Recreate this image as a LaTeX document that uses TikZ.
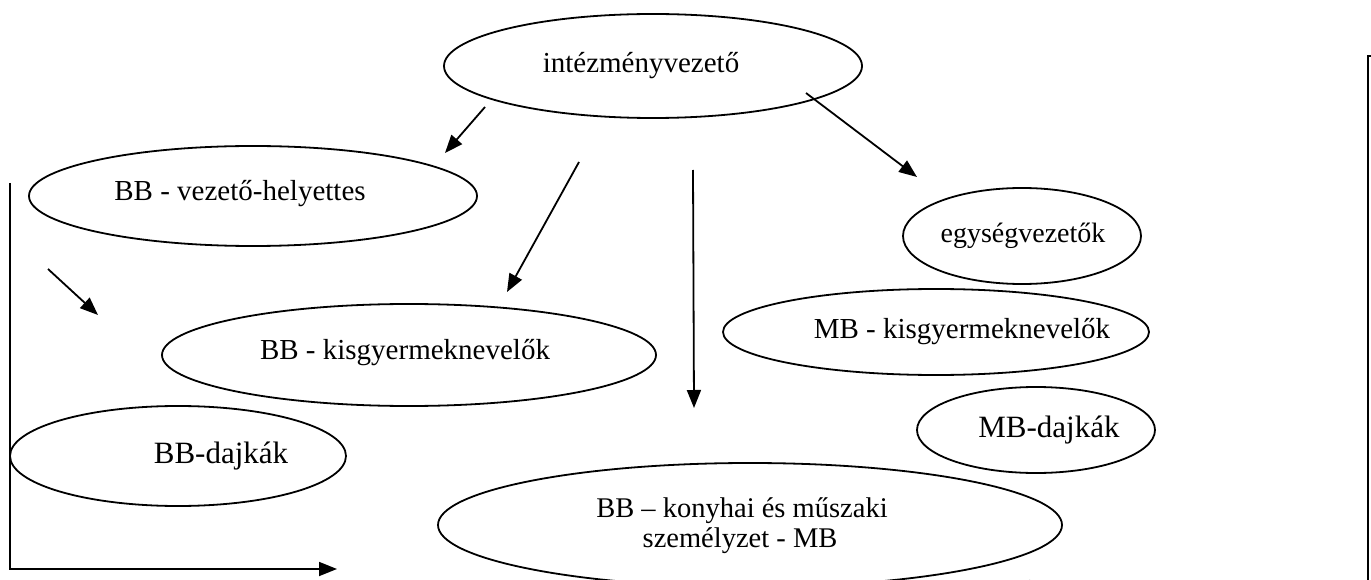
\documentclass[tikz,border=0pt]{standalone}
\usepackage{fontspec}
\setmainfont{Liberation Serif}
\usetikzlibrary{arrows.meta,shapes.geometric}
\begin{document}
\begin{tikzpicture}[x=1pt,y=-1pt,
  oval/.style={draw,ellipse,line width=1.8pt,inner sep=0pt},
  lbl/.style={font=\fontsize{29}{34}\selectfont,align=center,inner sep=0pt},
  lblb/.style={font=\fontsize{31}{36}\selectfont,align=center,inner sep=0pt},
  lbls/.style={font=\fontsize{28.5}{33}\selectfont,inner sep=0pt,anchor=base},
  arr/.style={line width=1.8pt,-{Triangle[length=18pt,width=14pt]}}]
\clip (0,0) rectangle (1371,580);
\fill[white] (0,0) rectangle (1371,580);
% ellipses
\node[oval,minimum width=418pt,minimum height=104pt] (iv) at (653,66) {};
\node[lbl] (ivt) at (641,66) {intézményvezető};
\node[oval,minimum width=448pt,minimum height=100pt] (vh) at (253,196) {};
\node[lbl] (vht) at (240,194) {BB - vezető-helyettes};
\node[oval,minimum width=494pt,minimum height=102pt] (bk) at (409,355) {};
\node[lbl] (bkt) at (405,353) {BB - kisgyermeknevelők};
\node[oval,minimum width=238pt,minimum height=96pt] (ev) at (1022,236) {};
\node[lbl,font=\fontsize{28}{33}\selectfont] (evt) at (1023,236) {egységvezetők};
\node[oval,minimum width=426pt,minimum height=86pt] (mk) at (936,332) {};
\node[lbl] (mkt) at (962,332) {MB - kisgyermeknevelők};
\node[oval,minimum width=238pt,minimum height=86pt] (md) at (1036,430) {};
\node[lblb] (mdt) at (1049,430) {MB-dajkák};
\node[oval,minimum width=336pt,minimum height=100pt] (bd) at (178,456) {};
\node[lblb] (bdt) at (221,456) {BB-dajkák};
\node[oval,minimum width=624pt,minimum height=124pt] (kt) at (750,525) {};
\node[lbls] (ktt1) at (742,517) {BB – konyhai és műszaki};
\node[lbls] (ktt2) at (740,547) {személyzet - MB};
% arrow end points
\coordinate (a1s) at (485,107); \coordinate (a1e) at (445,153);
\coordinate (a2s) at (579,162); \coordinate (a2e) at (507,292);
\coordinate (a3s) at (693,170); \coordinate (a3e) at (694,408);
\coordinate (a4s) at (806,93);  \coordinate (a4e) at (917,177);
\coordinate (a5s) at (48,269);  \coordinate (a5e) at (98,315);
\draw[arr] (a1s) -- (a1e);
\draw[arr] (a2s) -- (a2e);
\draw[arr] (a3s) -- (a3e);
\draw[arr] (a4s) -- (a4e);
\draw[arr] (a5s) -- (a5e);
% left bracket arrow
\coordinate (l1) at (10,183); \coordinate (l2) at (10,569); \coordinate (l3) at (337,569);
\draw[arr] (l1) -- (l2) -- (l3);
% right bracket arrow
\coordinate (r0) at (1380,56); \coordinate (r1) at (1368,56); \coordinate (r2) at (1368,587); \coordinate (r3) at (1012,587);
\draw[arr] (r0) -- (r1) -- (r2) -- (r3);
\end{tikzpicture}
\end{document}
